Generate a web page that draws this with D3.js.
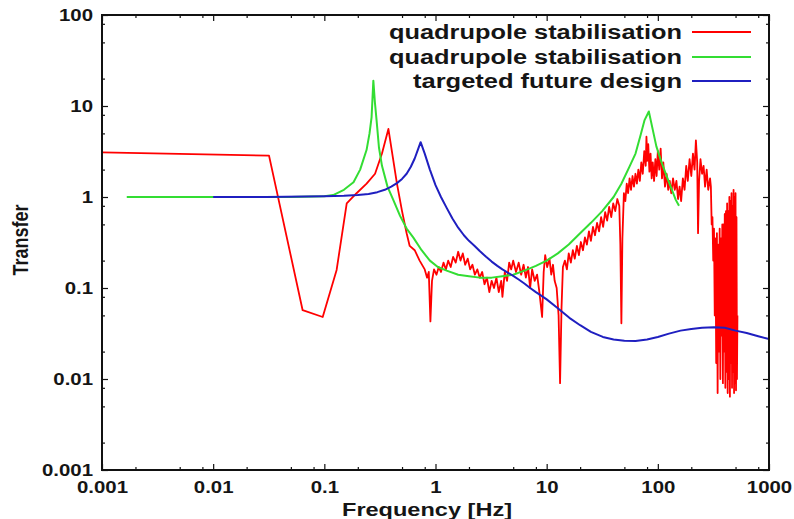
<!DOCTYPE html>
<html>
<head>
<meta charset="utf-8">
<script src="https://cdn.jsdelivr.net/npm/d3@7"></script>
<style>
  html, body { margin: 0; padding: 0; background: #fff; }
  svg { display: block; }
  text { font-family: "Liberation Sans", Arial, Helvetica, sans-serif; font-weight: bold; fill: #151515; }
</style>
</head>
<body>
<svg id="chart" width="794" height="519"></svg>
<script>
// ---------- data ----------
const seriesNames = ["quadrupole stabilisation", "quadrupole stabilisation", "targeted future design"];
const seriesColors = ["#ff0000", "#33dd33", "#1f1fc0"];

const xTickValues = [0.001, 0.01, 0.1, 1, 10, 100, 1000];
const xTickLabels = ["0.001", "0.01", "0.1", "1", "10", "100", "1000"];
const yTickValues = [0.001, 0.01, 0.1, 1, 10, 100];
const yTickLabels = ["0.001", "0.01", "0.1", "1", "10", "100"];
const minorMultipliers = [2, 5, 8];

// measured quadrupole stabilisation (red): [frequency Hz, transfer]
const redFreq = [0.001, 0.0318, 0.0638, 0.0967, 0.129, 0.159, 0.195, 0.24, 0.286, 0.33, 0.377, 0.41, 0.45, 0.5, 0.55, 0.586, 0.65, 0.72, 0.8, 0.84, 0.87, 0.9, 0.93, 0.97,
  1.02, 1.07, 1.12, 1.18, 1.24, 1.3, 1.37, 1.44, 1.52, 1.6, 1.68, 1.76, 1.85, 1.95, 2.05, 2.15, 2.26, 2.38, 2.5, 2.63, 2.76, 2.9, 3.05, 3.2, 3.36, 3.53, 3.71, 3.9, 4.0, 4.2, 4.4, 4.6, 4.8,
  5.0, 5.3, 5.6, 5.9, 6.2, 6.5, 6.8, 7.1, 7.4, 7.8, 8.2, 8.6, 9.1, 9.4, 9.7, 10.1, 10.6, 11.0, 11.4, 11.8, 12.3, 12.8, 13.2, 13.6, 14.0, 14.6, 15.2, 15.8, 16.5, 17.2, 17.9, 18.7, 19.5,
  20.3, 21.2, 22.1, 23.0, 24.0, 25.0, 26.1, 27.2, 28.4, 29.6, 30.9, 32.2, 33.6, 35.0, 36.5, 38.1, 39.7, 41.4, 43.2, 45.0, 46.0, 47.0, 48.0, 49.5,
  51.0, 52.5, 54.0, 55.7, 57.4, 59.2, 61.0, 62.9, 64.8, 66.8, 68.9, 71.0, 73.2, 75.5, 77.8, 79.0, 80.5, 82.0, 84.0, 86.0, 88.0, 90.0, 92.5, 95.0, 97.5,
  100, 103, 106, 109, 112, 116, 120, 124, 128, 132, 137, 142, 147, 152, 157, 162, 168, 174, 180, 186, 193, 200, 207, 214, 220, 226, 230, 235, 242, 250, 258, 266, 275, 284, 295,
  300, 305, 310, 315, 320, 325, 330, 335, 340, 345, 350, 355, 360, 365, 370, 375, 380, 385, 390, 395, 400, 405, 410, 415, 420, 425, 430, 435, 440, 445, 450, 455, 460, 465, 470, 475, 480, 485, 490, 495, 500, 505, 510, 515, 520];
const redValue = [3.1, 2.85, 0.057, 0.048, 0.158, 0.85, 1.1, 1.4, 1.8, 3.0, 5.6, 2.9, 1.4, 0.7, 0.4, 0.29, 0.26, 0.2, 0.16, 0.13, 0.15, 0.043, 0.12, 0.16,
  0.14, 0.17, 0.15, 0.19, 0.16, 0.2, 0.17, 0.22, 0.19, 0.25, 0.2, 0.24, 0.18, 0.21, 0.16, 0.18, 0.14, 0.16, 0.13, 0.15, 0.11, 0.13, 0.09, 0.12, 0.1, 0.13, 0.09, 0.12, 0.08, 0.15, 0.12, 0.19, 0.16,
  0.2, 0.15, 0.19, 0.14, 0.18, 0.13, 0.17, 0.1, 0.16, 0.12, 0.14, 0.09, 0.048, 0.15, 0.23, 0.17, 0.21, 0.14, 0.18, 0.12, 0.1, 0.05, 0.009, 0.06, 0.17, 0.2, 0.16, 0.24, 0.19, 0.26, 0.21, 0.29, 0.23,
  0.32, 0.26, 0.36, 0.3, 0.42, 0.33, 0.47, 0.38, 0.52, 0.42, 0.6, 0.47, 0.68, 0.55, 0.78, 0.6, 0.85, 0.7, 0.95, 0.8, 0.3, 0.041, 0.35, 1.1,
  0.9, 1.4, 1.1, 1.6, 1.2, 1.7, 1.3, 1.8, 1.4, 2.0, 1.5, 2.4, 1.8, 3.2, 2.2, 4.6, 2.5, 3.8, 1.9, 3.0, 1.6, 2.4, 1.5, 2.6, 1.7,
  3.2, 2.0, 3.4, 1.6, 2.4, 1.3, 1.8, 1.2, 1.5, 1.1, 1.6, 1.2, 1.5, 0.95, 1.3, 0.9, 1.6, 1.2, 2.2, 1.5, 2.6, 1.7, 3.0, 2.0, 4.2, 2.4, 0.4, 1.5, 2.6, 1.8, 2.2, 1.3, 2.0, 1.2, 1.6,
  1.3, 0.5, 0.6, 0.2, 0.45, 0.05, 0.35, 0.015, 0.4, 0.007, 0.3, 0.02, 0.45, 0.01, 0.35, 0.03, 0.5, 0.009, 0.5, 0.02, 0.65, 0.008, 0.7, 0.012, 0.85, 0.007, 0.7, 0.01, 1.0, 0.0064, 0.9, 0.015, 1.1, 0.008, 0.8, 0.012, 1.2, 0.007, 1.0, 0.009, 1.1, 0.0075, 0.6, 0.01, 0.05];

// quadrupole stabilisation model (green)
const greenFreq = [0.00167, 0.01, 0.05, 0.1, 0.12, 0.15, 0.183, 0.21, 0.24, 0.255, 0.266, 0.276, 0.285, 0.295, 0.31, 0.33, 0.37, 0.417, 0.48, 0.55, 0.63, 0.75, 0.89,
  1.05, 1.26, 1.6, 2.0, 2.5, 3.2, 4.0, 5.0, 6.3, 8.0, 10, 12.6, 15.8, 20, 25, 31.6, 40, 47, 56, 63, 70, 76, 83, 90, 97, 108, 120, 132, 145, 155];
const greenValue = [1, 1, 1.0, 1.02, 1.05, 1.2, 1.45, 2.0, 3.3, 5, 7.5, 19, 11, 7, 3.5, 2.2, 1.3, 0.93, 0.62, 0.45, 0.36, 0.26, 0.2,
  0.17, 0.155, 0.14, 0.135, 0.13, 0.13, 0.135, 0.14, 0.155, 0.175, 0.2, 0.24, 0.3, 0.4, 0.52, 0.7, 1.0, 1.4, 2.2, 3.0, 4.8, 7.0, 8.7, 5.5, 3.6, 2.4, 1.7, 1.25, 0.93, 0.8];

// targeted future design (blue)
const blueFreq = [0.01, 0.03, 0.1, 0.15, 0.2, 0.25, 0.3, 0.35, 0.4, 0.45, 0.5, 0.55, 0.6, 0.65, 0.7, 0.735, 0.8, 0.89, 1.0, 1.12, 1.26, 1.42, 1.6, 1.8, 2.0, 2.25, 2.5, 2.85, 3.2, 3.6, 4.0, 4.5, 5.0, 5.6, 6.3, 7.1, 8.0,
  9.0, 10, 12.6, 16, 20, 25, 32, 40, 50, 63, 80, 100, 126, 160, 200, 250, 320, 400, 500, 630, 800, 1000];
const blueValue = [1, 1.0, 1.02, 1.03, 1.05, 1.08, 1.13, 1.2, 1.3, 1.42, 1.58, 1.8, 2.15, 2.65, 3.4, 4.0, 3.0, 2.0, 1.35, 1.0, 0.76, 0.58, 0.46, 0.38, 0.33, 0.29, 0.255, 0.22, 0.195, 0.175, 0.16, 0.147, 0.136, 0.124, 0.112, 0.1, 0.09,
  0.082, 0.075, 0.06, 0.047, 0.039, 0.033, 0.029, 0.0272, 0.0263, 0.0262, 0.0272, 0.029, 0.0315, 0.034, 0.0355, 0.0365, 0.037, 0.0365, 0.034, 0.032, 0.0295, 0.0275];

const xLabel = "Frequency [Hz]";
const yLabel = "Transfer";

// ---------- layout ----------
const X0 = 102, X1 = 769, Y0 = 15, Y1 = 470;
const SX = 1.2; // horizontal stretch of the reference text

const svg = d3.select("#chart");
svg.append("rect").attr("width", 794).attr("height", 519).attr("fill", "#fff");

const x = d3.scaleLog().domain([0.001, 1000]).range([X0, X1]);
const y = d3.scaleLog().domain([0.001, 100]).range([Y1, Y0]);

const minorX = [], minorY = [];
xTickValues.slice(0, -1).forEach(d => minorMultipliers.forEach(m => minorX.push(d * m)));
yTickValues.slice(0, -1).forEach(d => minorMultipliers.forEach(m => minorY.push(d * m)));

function styleAxis(g) {
  g.select(".domain").remove();
  g.selectAll(".tick line").attr("stroke", "#111").attr("stroke-width", 1.2);
}

// bottom axis
const gB = svg.append("g").attr("transform", `translate(0,${Y1})`)
  .call(d3.axisBottom(x).tickValues(xTickValues).tickFormat((d, i) => xTickLabels[i]).tickSize(-6).tickPadding(11));
styleAxis(gB);
gB.selectAll(".tick text").attr("font-size", 17).attr("font-family", null).attr("transform", `scale(${SX},1)`);
svg.append("g").attr("transform", `translate(0,${Y1})`)
  .call(d3.axisBottom(x).tickValues(minorX).tickFormat("").tickSize(-3)).call(styleAxis);
// top axis
svg.append("g").attr("transform", `translate(0,${Y0})`)
  .call(d3.axisTop(x).tickValues(xTickValues).tickFormat("").tickSize(-6)).call(styleAxis);
svg.append("g").attr("transform", `translate(0,${Y0})`)
  .call(d3.axisTop(x).tickValues(minorX).tickFormat("").tickSize(-3)).call(styleAxis);
// left axis
const gL = svg.append("g").attr("transform", `translate(${X0},0)`)
  .call(d3.axisLeft(y).tickValues(yTickValues).tickFormat((d, i) => yTickLabels[i]).tickSize(-6).tickPadding(7.5));
styleAxis(gL);
gL.selectAll(".tick text").attr("font-size", 17).attr("font-family", null).attr("transform", `scale(${SX},1)`);
svg.append("g").attr("transform", `translate(${X0},0)`)
  .call(d3.axisLeft(y).tickValues(minorY).tickFormat("").tickSize(-3)).call(styleAxis);
// right axis
svg.append("g").attr("transform", `translate(${X1},0)`)
  .call(d3.axisRight(y).tickValues(yTickValues).tickFormat("").tickSize(-6)).call(styleAxis);
svg.append("g").attr("transform", `translate(${X1},0)`)
  .call(d3.axisRight(y).tickValues(minorY).tickFormat("").tickSize(-3)).call(styleAxis);

// clip
svg.append("clipPath").attr("id", "plotclip").append("rect")
  .attr("x", X0).attr("y", Y0).attr("width", X1 - X0).attr("height", Y1 - Y0);

const line = d3.line().x(d => x(d[0])).y(d => y(d[1]));
const series = [
  d3.zip(redFreq, redValue),
  d3.zip(greenFreq, greenValue),
  d3.zip(blueFreq, blueValue)
];
const plot = svg.append("g").attr("clip-path", "url(#plotclip)");
series.forEach((s, i) => {
  plot.append("path").datum(s).attr("d", line)
    .attr("fill", "none").attr("stroke", seriesColors[i])
    .attr("stroke-width", i === 0 ? 1.8 : 2).attr("stroke-linejoin", "round");
});

// frame
svg.append("rect").attr("x", X0).attr("y", Y0).attr("width", X1 - X0).attr("height", Y1 - Y0)
  .attr("fill", "none").attr("stroke", "#111").attr("stroke-width", 2);

// legend
const legendRows = [32, 57, 81];
const legendWidths = [293, 293, 269];
seriesNames.forEach((name, i) => {
  svg.append("text").attr("x", 682).attr("y", legendRows[i]).attr("dy", "0.35em")
    .attr("text-anchor", "end").attr("font-size", 20)
    .attr("textLength", legendWidths[i]).attr("lengthAdjust", "spacingAndGlyphs")
    .text(name);
  svg.append("line").attr("x1", 692).attr("x2", 751).attr("y1", legendRows[i]).attr("y2", legendRows[i])
    .attr("stroke", seriesColors[i]).attr("stroke-width", 2);
});

// axis titles
svg.append("text").attr("transform", `translate(427,516)`)
  .attr("text-anchor", "middle").attr("font-size", 19)
  .attr("textLength", 170).attr("lengthAdjust", "spacingAndGlyphs").text(xLabel);
svg.append("text").attr("transform", `translate(28,240) scale(${SX},1) rotate(-90)`)
  .attr("text-anchor", "middle").attr("font-size", 18).text(yLabel);
</script>
</body>
</html>
